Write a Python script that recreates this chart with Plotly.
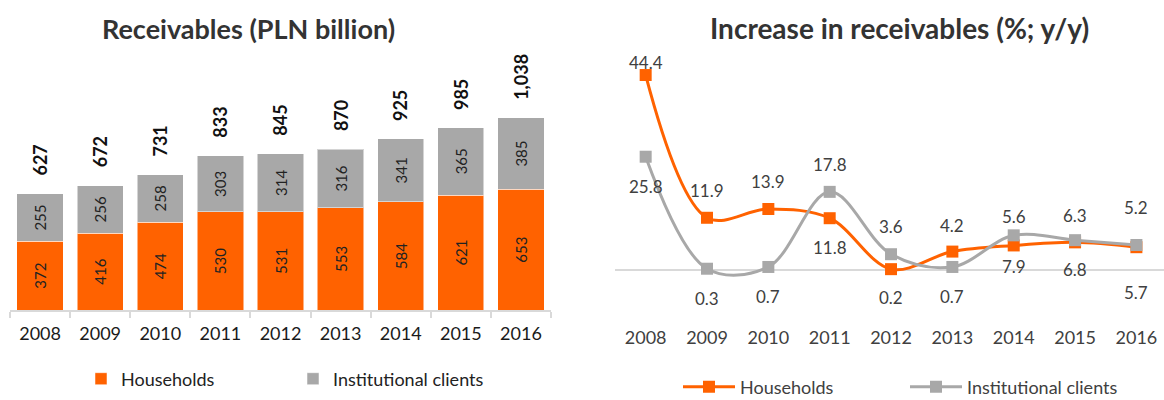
import plotly.graph_objects as go

# ---------------- data ----------------
years = ["2008", "2009", "2010", "2011", "2012", "2013", "2014", "2015", "2016"]
households = [372, 416, 474, 530, 531, 553, 584, 621, 653]
institutional = [255, 256, 258, 303, 314, 316, 341, 365, 385]
totals = [627, 672, 731, 833, 845, 870, 925, 985, 1038]

hh_growth = [44.4, 11.9, 13.9, 11.8, 0.2, 4.2, 5.6, 6.3, 5.2]
inst_growth = [25.8, 0.3, 0.7, 17.8, 3.6, 0.7, 7.9, 6.8, 5.7]

# ---------------- style ----------------
W, H = 1164, 400
ORANGE = "#FF6200"
GREY = "#A8A8A8"
FONT = "Lato"
# vertical offsets (px, + = up) of the growth labels
hh_shift = [13, 27, 27, -29, -28, 26, 29, 27, 40]
inst_shift = [-30, -30, -30, 27, 28, -30, -31, -29, -47]

def px(x):
    return x / W

def py(y):
    return 1 - y / H

fig = go.Figure()

# ---- left: stacked bars ----
fig.add_trace(go.Bar(
    x=years, y=households, name="Households", marker_color=ORANGE,
    marker_line=dict(color="rgba(255,255,255,0.5)", width=1),
    text=[str(v) for v in households], textposition="inside", textangle=-90,
    insidetextanchor="middle", textfont=dict(family=FONT, size=15, color="#222222"),
    xaxis="x", yaxis="y", legend="legend",
))
fig.add_trace(go.Bar(
    x=years, y=institutional, name="Institutional clients", marker_color=GREY,
    marker_line=dict(color="rgba(255,255,255,0.5)", width=1),
    text=[str(v) for v in institutional], textposition="inside", textangle=-90,
    insidetextanchor="middle", textfont=dict(family=FONT, size=15, color="#222222"),
    xaxis="x", yaxis="y", legend="legend",
))

annotations = []
for i, t in enumerate(totals):
    annotations.append(dict(
        x=i, y=t, xref="x", yref="y", text=f"<b>{t:,}</b>", showarrow=False,
        textangle=270, xanchor="center", yanchor="bottom", yshift=16,
        font=dict(family=FONT, size=18, color="#111111"),
    ))

# ---- right: smoothed lines ----
fig.add_trace(go.Scatter(
    x=years, y=hh_growth, name="Households", mode="lines+markers",
    line=dict(color=ORANGE, width=3, shape="spline", smoothing=1),
    marker=dict(symbol="square", size=12, color=ORANGE),
    xaxis="x2", yaxis="y2", legend="legend2",
))
fig.add_trace(go.Scatter(
    x=years, y=inst_growth, name="Institutional clients", mode="lines+markers",
    line=dict(color=GREY, width=3, shape="spline", smoothing=1),
    marker=dict(symbol="square", size=12, color=GREY),
    xaxis="x2", yaxis="y2", legend="legend2",
))

for vals, shifts in ((hh_growth, hh_shift), (inst_growth, inst_shift)):
    for i, (v, s) in enumerate(zip(vals, shifts)):
        annotations.append(dict(
            x=i, y=v, xref="x2", yref="y2", text=f"{v:.1f}", showarrow=False,
            xanchor="center", yanchor="middle", yshift=s,
            font=dict(family=FONT, size=17, color="#404040"),
        ))

# titles
annotations.append(dict(
    x=px(248), y=py(28), xref="paper", yref="paper", text="<b>Receivables (PLN billion)</b>",
    showarrow=False, xanchor="center", yanchor="middle",
    font=dict(family=FONT, size=27, color="#333333"),
))
annotations.append(dict(
    x=px(899), y=py(28), xref="paper", yref="paper", text="<b>Increase in receivables (%; y/y)</b>",
    showarrow=False, xanchor="center", yanchor="middle",
    font=dict(family=FONT, size=28, color="#333333"),
))

fig.update_layout(
    width=W, height=H,
    margin=dict(l=0, r=0, t=0, b=0, autoexpand=False),
    paper_bgcolor="white", plot_bgcolor="white",
    barmode="stack", bargap=0.23,
    font=dict(family=FONT, color="#222222"),
    annotations=annotations,
    xaxis=dict(
        domain=[px(10), px(551)], range=[-0.5, 8.5], type="category",
        showline=True, linecolor="#D9D9D9", linewidth=1.5,
        ticks="outside", tickson="boundaries", ticklen=6, tickcolor="#D9D9D9", tickwidth=1.5,
        tickfont=dict(family=FONT, size=18, color="#1a1a1a"), ticklabelstandoff=7,
        showgrid=False, fixedrange=True,
    ),
    yaxis=dict(
        domain=[py(310), py(50)], range=[0, 1405], visible=False, showgrid=False,
    ),
    xaxis2=dict(
        domain=[px(615), 1.0], range=[-0.5, 8.45], type="category",
        showline=False, ticks="", showgrid=False,
        tickfont=dict(family=FONT, size=18, color="#404040"), ticklabelstandoff=15,
    ),
    yaxis2=dict(
        domain=[py(310), py(50)], range=[-9.1, 50.1], showgrid=False,
        showticklabels=False, zeroline=True, zerolinecolor="#D9D9D9", zerolinewidth=2,
        anchor="x2",
    ),
    legend=dict(
        orientation="h", x=px(81), y=py(379), xanchor="left", yanchor="middle",
        traceorder="normal",
        font=dict(family=FONT, size=18, color="#222222"), entrywidth=167,
        bgcolor="rgba(0,0,0,0)",
    ),
    legend2=dict(
        orientation="h", x=px(678), y=py(387), xanchor="left", yanchor="middle",
        traceorder="normal",
        font=dict(family=FONT, size=18, color="#404040"), itemwidth=52, entrywidth=160,
        bgcolor="rgba(0,0,0,0)",
    ),
    showlegend=True,
)

fig.write_html("out.html", config={"displayModeBar": False},
               post_script="document.body.style.margin='0';")
